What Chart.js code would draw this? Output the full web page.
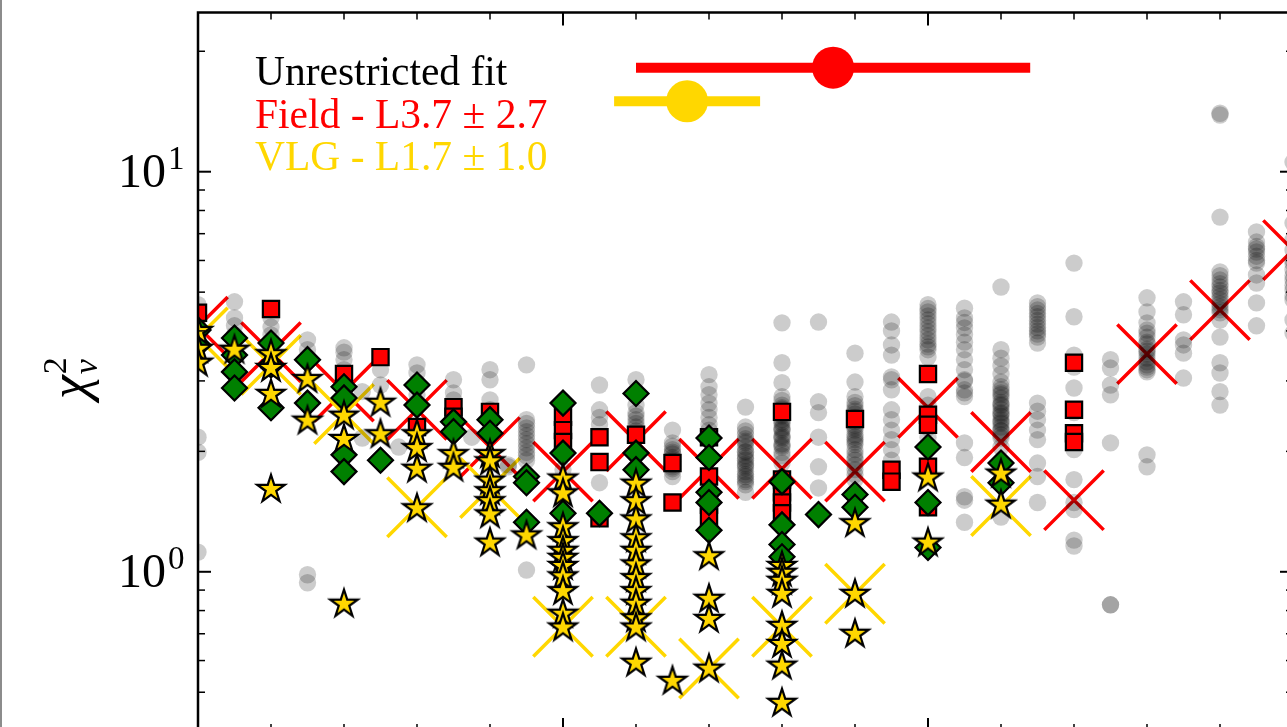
<!DOCTYPE html>
<html>
<head>
<meta charset="utf-8">
<script src="https://cdn.jsdelivr.net/npm/chart.js@4.4.1/dist/chart.umd.min.js"></script>
<style>
  html, body { margin: 0; padding: 0; background: #fff; overflow: hidden; width: 1287px; height: 727px; }
  #wrap { position: absolute; left: 0; top: 0; width: 1300px; height: 740px; }
  #edge { position: absolute; left: 0; top: 0; width: 2px; height: 727px; background: #8c8c8c; }
</style>
</head>
<body>
<div id="wrap"><canvas id="c" width="1300" height="740"></canvas></div>
<div id="edge"></div>
<script>
// Spectral types are numbered M0 = 0, L0 = 10, T0 = 20.

// Grid of unrestricted fits (grey points), one list per spectral type
const gridTypes = [5, 5.5, 6, 6.5, 7, 7.25, 7.5, 7.75, 8, 8.5, 8.75, 9, 9.25, 9.5, 10, 10.5, 11, 11.5,
  12, 12.5, 13, 13.5, 14, 14.5, 15, 15.5, 16, 16.5, 17, 17.5, 18, 18.5, 19, 19.5, 20];
const gridChi2 = [
  [4.65, 4.26, 4.02, 3.80, 2.17, 1.99, 1.12],
  [4.73, 4.31, 4.12, 3.91],
  [4.31, 4.09, 3.91, 3.69],
  [3.80, 3.59, 0.983, 0.939],
  [3.63, 3.54, 3.39, 3.20],
  [2.82, 2.16],
  [3.20, 2.93],
  [2.05],
  [3.29, 3.14, 2.97, 2.77],
  [3.02, 2.80, 2.69],
  [2.17],
  [3.20, 3.02, 2.69, 2.54],
  [1.85, 1.83],
  [3.29, 2.40, 2.35, 2.29, 2.24, 2.19, 2.14, 2.09, 2.04, 1.99, 1.95, 1.90, 1.01],
  [2.14, 1.80, 1.51],
  [2.93, 2.54, 2.43, 2.33, 1.67],
  [3.02, 2.77, 2.61, 2.50, 2.45, 2.40, 2.35, 2.30, 2.25, 2.20],
  [2.26, 2.10, 2.06, 2.02, 1.99, 1.97, 1.93, 1.91, 1.89, 1.85, 1.83, 1.81, 1.78, 1.73],
  [3.11, 2.90, 2.77, 2.64, 2.54, 2.43, 2.33, 2.26],
  [2.58, 2.30, 2.25, 2.20, 2.15, 2.12, 2.10, 2.05, 2.00, 1.99, 1.95, 1.92, 1.90, 1.86, 1.84, 1.82,
    1.78, 1.75, 1.73, 1.70, 1.68, 1.65, 1.58],
  [4.19, 3.33, 2.97, 2.74, 2.68, 2.61, 2.57, 2.55, 2.50, 2.47, 2.45, 2.40, 2.37, 2.35, 2.29, 2.27,
    2.25, 2.19, 2.17, 2.15, 2.09, 2.07, 2.05, 1.99, 1.95, 1.87],
  [4.21, 2.66, 2.50, 2.17, 1.83, 1.62],
  [3.52, 2.98, 2.74, 2.65, 2.60, 2.55, 2.52, 2.48, 2.43, 2.40, 2.37, 2.32, 2.29, 2.26, 2.20, 2.17,
    2.14, 2.11, 2.08, 2.02, 1.97, 1.93, 1.90, 1.85, 1.80, 1.75, 1.70],
  [4.21, 4.00, 3.69, 3.48, 3.07, 3.02, 2.85, 2.54, 2.40, 2.26, 2.14, 2.02, 1.90],
  [4.65, 4.55, 4.46, 4.36, 4.26, 4.17, 4.07, 3.98, 3.89, 3.80, 3.71, 3.65, 3.59, 3.44, 2.74, 2.61,
    2.50, 2.40, 2.29, 2.17],
  [4.56, 4.31, 4.20, 4.07, 3.91, 3.75, 3.59, 3.39, 3.20, 3.02, 3.00, 2.85, 2.80, 2.74, 2.10, 1.93,
    1.54, 1.51, 1.33],
  [5.15, 3.59, 3.42, 3.27, 3.12, 2.98, 2.90, 2.85, 2.80, 2.77, 2.72, 2.65, 2.62, 2.60, 2.55, 2.50,
    2.48, 2.45, 2.40, 2.37, 2.35, 2.30, 2.26, 2.25, 2.20, 2.16, 2.05, 1.37],
  [4.70, 4.60, 4.51, 4.42, 4.34, 4.25, 4.16, 4.08, 4.00, 3.93, 3.86, 3.73, 2.64, 2.52, 2.40, 2.26,
    2.14, 1.87, 1.73, 1.49],
  [5.91, 4.34, 3.48, 3.25, 2.88, 2.50, 2.02, 1.70, 1.49, 1.43, 1.20, 1.16],
  [3.39, 3.23, 2.93, 2.77, 2.10, 0.827, 0.827],
  [4.84, 4.46, 4.19, 4.02, 3.95, 3.86, 3.75, 3.71, 3.60, 3.56, 3.50, 3.42, 3.35, 3.29, 3.25, 3.20,
    3.16, 1.96, 1.83],
  [4.73, 4.39, 3.80, 3.69, 3.52, 3.05],
  [14.0, 13.86, 7.70, 5.62, 5.50, 5.36, 5.25, 5.15, 5.05, 4.98, 4.88, 4.78, 4.68, 4.59, 4.52, 4.44,
    4.26, 3.86, 3.33, 3.14, 2.82, 2.61],
  [7.07, 6.67, 6.50, 6.41, 6.30, 6.15, 6.00, 5.91, 5.52, 5.27, 4.70, 4.12],
  [10.57, 7.44, 6.75, 6.37, 6.01, 5.90, 5.68, 5.50, 5.36, 5.20, 5.06, 4.90, 4.78, 4.26, 3.95]
];

// Field dwarfs (red squares)
const fieldTypes = [5, 6, 7, 7.5, 8, 8.5, 9, 10, 10.5, 11, 11.5, 12, 13, 14, 14.5, 15, 17];
const fieldChi2 = [
  [4.44], [4.54], [3.12], [3.44], [2.30], [2.58, 2.44], [2.51],
  [2.44, 2.26, 2.11], [2.17, 1.88, 1.36], [2.20], [1.87, 1.49],
  [2.17, 1.73, 1.47, 1.37], [2.51, 1.70, 1.58, 1.49, 1.40], [2.41],
  [1.80, 1.68], [3.12, 2.47, 2.33, 1.83, 1.45], [3.33, 2.54, 2.22, 2.11]
];

// Intermediate-gravity objects (green diamonds)
const intgTypes = [5, 5.5, 6, 6.5, 7, 7.5, 8, 8.5, 9, 9.5, 10, 10.5, 11, 12, 13, 13.5, 14, 15, 16];
const intgChi2 = [
  [4.02, 3.69], [3.84, 3.48, 3.16, 2.88], [3.73, 3.29, 2.57], [3.39, 2.64],
  [2.90, 2.72, 1.96, 1.78], [1.90], [2.93, 2.61], [2.37, 2.24], [2.40, 2.22],
  [1.73, 1.67, 1.33], [2.64, 1.98, 1.40], [1.40], [2.79, 1.98, 1.80],
  [2.16, 1.93, 1.58, 1.49, 1.27], [1.68, 1.31, 1.17, 1.09], [1.39],
  [1.56, 1.45], [2.05, 1.49, 1.15], [1.87, 1.67]
];

// Very-low-gravity objects (gold stars)
const vlgTypes = [5, 5.5, 6, 6.5, 7, 7.5, 8, 8.5, 9, 9.5, 10, 11, 11.5, 12, 13, 14, 15, 16];
const vlgChi2 = [
  [4.02, 3.63, 3.35], [3.61], [3.52, 3.25, 2.80, 1.62], [3.05, 2.40],
  [2.47, 2.16, 0.837], [2.66, 2.22], [2.22, 2.05, 1.82, 1.45], [1.98, 1.83],
  [1.98, 1.90, 1.70, 1.60, 1.51, 1.40, 1.19], [1.24],
  [1.72, 1.58, 1.30, 1.20, 1.135, 1.09, 1.04, 0.98, 0.90, 0.79, 0.73],
  [1.67, 1.51, 1.36, 1.22, 1.135, 1.05, 0.97, 0.90, 0.837, 0.77, 0.73, 0.596],
  [0.537], [1.10, 0.861, 0.767, 0.576],
  [1.04, 1.0, 0.955, 0.886, 0.737, 0.664, 0.586, 0.473],
  [1.33, 0.886, 0.704], [1.73, 1.19], [1.77, 1.48]
];

// Per-type averages (large crosses)
const fieldMeanTypes = [5, 6, 7, 8, 9, 10, 11, 12, 13, 14, 15, 16, 17, 18, 19, 20];
const fieldMean = [4.1, 3.54, 2.82, 2.54, 2.05, 1.78, 2.12, 1.81, 1.81, 1.78, 2.57, 2.11, 1.51, 3.50, 4.51, 6.37];
const vlgMeanTypes = [5, 6, 7, 8, 9, 10, 11, 12, 13, 14, 16];
const vlgMean = [3.85, 3.29, 2.48, 1.45, 1.62, 0.729, 0.729, 0.573, 0.729, 0.881, 1.46];

// Best-fit spectral type from the unrestricted fits, with its spread
const fieldBest = { type: 13.7, err: 2.7, level: 18.2 };
const vlgBest = { type: 11.7, err: 1.0, level: 15.0 };

const legendLines = [
  { text: 'Unrestricted fit', color: '#000000' },
  { text: 'Field - L3.7 \u00b1 2.7', color: '#ff0000' },
  { text: 'VLG - L1.7 \u00b1 1.0', color: '#ffd700' }
];
const yTickValues = [1, 10];

const RED = '#ff0000', GOLD = '#ffd700', GREEN = '#008000';
const FONT = '"Liberation Serif", "DejaVu Serif", serif';

function toPoints(types, lists) {
  const pts = [];
  types.forEach((t, i) => lists[i].forEach(v => pts.push({ x: t, y: v })));
  return pts;
}
function pairPoints(types, vals) {
  return types.map((t, i) => ({ x: t, y: vals[i] }));
}

function starMarker(R, fill, edge, lw) {
  const s = Math.ceil(2 * R + 2 * lw + 2);
  const c = document.createElement('canvas');
  c.width = c.height = s;
  const g = c.getContext('2d');
  const cx = s / 2, cy = s / 2 + R * 0.09, r = R * 0.381966;
  g.beginPath();
  for (let i = 0; i < 10; i++) {
    const a = -Math.PI / 2 + i * Math.PI / 5;
    const rr = i % 2 ? r : R;
    g.lineTo(cx + rr * Math.cos(a), cy + rr * Math.sin(a));
  }
  g.closePath();
  g.fillStyle = fill; g.fill();
  g.lineWidth = lw; g.lineJoin = 'miter'; g.strokeStyle = edge; g.stroke();
  return c;
}
const star = starMarker(14.5, GOLD, '#000', 2.2);

const scatterBase = { showLine: false, clip: 0 };

const datasets = [
  { ...scatterBase, label: 'field best', order: 0, data: [{ x: fieldBest.type, y: fieldBest.level }],
    pointStyle: 'circle', pointRadius: 21, backgroundColor: RED, borderWidth: 0 },
  { ...scatterBase, label: 'vlg best', order: 0, data: [{ x: vlgBest.type, y: vlgBest.level }],
    pointStyle: 'circle', pointRadius: 21, backgroundColor: GOLD, borderWidth: 0 },
  { label: 'field spread', order: 1, showLine: true, clip: 0, pointRadius: 0, borderColor: RED, borderWidth: 10,
    borderCapStyle: 'butt',
    data: [{ x: fieldBest.type - fieldBest.err, y: fieldBest.level }, { x: fieldBest.type + fieldBest.err, y: fieldBest.level }] },
  { label: 'vlg spread', order: 1, showLine: true, clip: 0, pointRadius: 0, borderColor: GOLD, borderWidth: 10,
    borderCapStyle: 'butt',
    data: [{ x: vlgBest.type - vlgBest.err, y: vlgBest.level }, { x: vlgBest.type + vlgBest.err, y: vlgBest.level }] },
  { ...scatterBase, label: 'VLG', order: 2, data: toPoints(vlgTypes, vlgChi2),
    pointStyle: star, pointRadius: 14 },
  { ...scatterBase, label: 'INT-G', order: 3, data: toPoints(intgTypes, intgChi2),
    pointStyle: 'rectRot', pointRadius: 12.5, backgroundColor: GREEN, borderColor: '#000', borderWidth: 2.2 },
  { ...scatterBase, label: 'Field', order: 4, data: toPoints(fieldTypes, fieldChi2),
    pointStyle: 'rect', pointRadius: 11.5, backgroundColor: RED, borderColor: '#000', borderWidth: 2.2 },
  { ...scatterBase, label: 'Unrestricted fit', order: 5, data: toPoints(gridTypes, gridChi2),
    pointStyle: 'circle', pointRadius: 8.7, backgroundColor: 'rgba(0,0,0,0.2)', borderWidth: 0 },
  { ...scatterBase, label: 'VLG mean', order: 6, data: pairPoints(vlgMeanTypes, vlgMean),
    pointStyle: 'crossRot', pointRadius: 42, borderColor: GOLD, borderWidth: 3.5 },
  { ...scatterBase, label: 'Field mean', order: 7, data: pairPoints(fieldMeanTypes, fieldMean),
    pointStyle: 'crossRot', pointRadius: 42, borderColor: RED, borderWidth: 3.5 }
];
datasets.forEach(d => { d.pointHoverRadius = d.pointRadius; });

const framePlugin = {
  id: 'frame',
  afterDraw(chart) {
    const { ctx, chartArea: ca } = chart;
    const xs = chart.scales.x, ys = chart.scales.y;
    ctx.save();
    ctx.strokeStyle = '#000';
    const seg = (x1, y1, x2, y2, w) => {
      ctx.lineWidth = w; ctx.beginPath(); ctx.moveTo(x1, y1); ctx.lineTo(x2, y2); ctx.stroke();
    };
    // y ticks (log): majors at decades, minors at 2..9
    for (let e = -1; e <= 1; e++) {
      for (let m = 1; m <= 9; m++) {
        const v = m * Math.pow(10, e);
        if (v < ys.min || v > ys.max) continue;
        const p = ys.getPixelForValue(v);
        const major = m === 1;
        const len = major ? 13 : 7, w = major ? 2 : 1.5;
        seg(ca.left, p, ca.left + len, p, w);
        seg(ca.right, p, ca.right - len, p, w);
      }
    }
    // x ticks: every subtype, majors every five
    for (let t = Math.ceil(xs.min); t <= xs.max; t++) {
      const p = xs.getPixelForValue(t);
      const major = t % 5 === 0;
      const len = major ? 13 : 7, w = major ? 2 : 1.5;
      seg(p, ca.bottom, p, ca.bottom - len, w);
      seg(p, ca.top, p, ca.top + len, w);
    }
    // spines
    ctx.lineWidth = 2.5;
    ctx.strokeRect(ca.left, ca.top, ca.right - ca.left, ca.bottom - ca.top);

    // y tick labels as 10^n
    ctx.fillStyle = '#000';
    ctx.textBaseline = 'alphabetic';
    yTickValues.forEach(v => {
      const p = ys.getPixelForValue(v);
      const ex = String(Math.round(Math.log10(v)));
      ctx.font = '48px ' + FONT;
      ctx.textAlign = 'right';
      ctx.fillText('10', 166, p + 15);
      ctx.font = '33px ' + FONT;
      ctx.textAlign = 'left';
      ctx.fillText(ex, 168, p - 3);
    });

    // axis title chi^2_nu
    ctx.save();
    ctx.translate(87, 399);
    ctx.rotate(-Math.PI / 2);
    ctx.textAlign = 'left';
    ctx.font = 'italic 54px ' + FONT;
    ctx.fillText('\u03c7', 0, 0);
    const w = ctx.measureText('\u03c7').width;
    ctx.font = '34px ' + FONT;
    ctx.fillText('2', w + 1, -21);
    ctx.font = 'italic 34px ' + FONT;
    ctx.fillText('\u03bd', w + 1, 10);
    ctx.restore();

    // text legend
    ctx.font = '41.5px ' + FONT;
    ctx.textAlign = 'left';
    legendLines.forEach((l, i) => {
      ctx.fillStyle = l.color;
      ctx.fillText(l.text, 255, 85 + i * 42.5);
    });
    ctx.restore();
  }
};

new Chart(document.getElementById('c'), {
  type: 'scatter',
  data: { datasets },
  options: {
    responsive: false,
    devicePixelRatio: 1,
    animation: false,
    events: [],
    layout: { autoPadding: false, padding: { left: 198, top: 12.5, right: 7, bottom: 9 } },
    plugins: { legend: { display: false }, tooltip: { enabled: false } },
    scales: {
      x: { type: 'linear', min: 5, max: 20, display: false },
      y: { type: 'logarithmic', min: 0.4, max: 25, display: false }
    }
  },
  plugins: [framePlugin]
});
</script>
</body>
</html>
